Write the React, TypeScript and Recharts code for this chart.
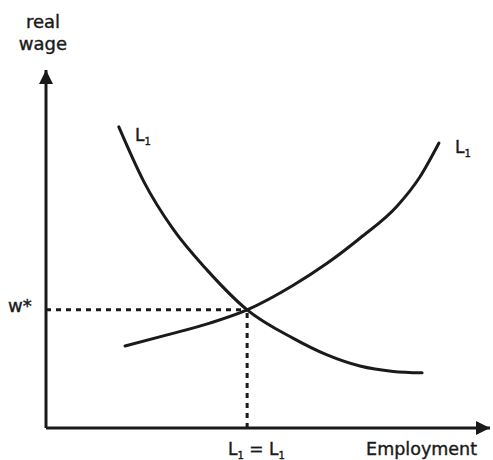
import { LineChart, Line, XAxis, YAxis, ReferenceLine } from "recharts";

// labour demand curve (falling)
const demandEmployment = [16.4, 22.0, 28.6, 36.3, 45.3, 55.6, 63.3, 70.7, 78.2, 84.7];
const demandWage = [84.1, 68.9, 55.6, 44.1, 33.0, 25.1, 20.4, 17.3, 15.8, 15.4];

// labour supply curve (rising)
const supplyEmployment = [17.8, 27.3, 36.9, 45.3, 55.6, 63.3, 70.7, 79.1, 84.2, 88.5];
const supplyWage = [22.9, 26.0, 29.3, 33.0, 39.8, 46.0, 53.0, 62.0, 70.1, 79.6];

const eqEmployment = 45.3;
const eqWage = 33.0;

const demand = demandEmployment.map((x, i) => ({ x, y: demandWage[i] }));
const supply = supplyEmployment.map((x, i) => ({ x, y: supplyWage[i] }));

const ink = "#1a1a1a";
const font = "'DejaVu Sans', sans-serif";
const txt = { fontFamily: font, fill: ink, stroke: ink, strokeWidth: 0.4 };

function LSub({ x, y }: { x: number; y: number }) {
  return (
    <text x={x} y={y} fontSize={17} {...txt}>
      L<tspan fontSize={10} dy={4}>1</tspan>
    </text>
  );
}

export default function App() {
  return (
    <div style={{ position: "absolute", left: 0, top: 0, background: "#fff" }}>
      <LineChart
        width={493}
        height={460}
        margin={{ top: 70, right: 3, bottom: 31, left: 45 }}
      >
        <defs>
          <marker
            id="arrow"
            viewBox="0 0 14 14"
            markerUnits="userSpaceOnUse"
            markerWidth={14}
            markerHeight={14}
            refX={14}
            refY={7}
            orient="auto-start-reverse"
          >
            <path d="M0,0 L14,7 L0,14 z" fill={ink} />
          </marker>
        </defs>
        <XAxis
          dataKey="x"
          type="number"
          domain={[0, 100]}
          height={1}
          tick={false}
          tickLine={false}
          axisLine={{ stroke: ink, strokeWidth: 3, markerEnd: "url(#arrow)" }}
        />
        <YAxis
          type="number"
          domain={[0, 100]}
          width={1}
          tick={false}
          tickLine={false}
          axisLine={{ stroke: ink, strokeWidth: 3, markerStart: "url(#arrow)" }}
        />
        <ReferenceLine
          segment={[{ x: 0, y: eqWage }, { x: eqEmployment, y: eqWage }]}
          stroke={ink}
          strokeWidth={3}
          strokeDasharray="5 5"
        />
        <ReferenceLine
          segment={[{ x: eqEmployment, y: 0 }, { x: eqEmployment, y: eqWage }]}
          stroke={ink}
          strokeWidth={3}
          strokeDasharray="5 5"
        />
        <Line
          data={demand}
          dataKey="y"
          type="monotone"
          stroke={ink}
          strokeWidth={3}
          strokeLinecap="round"
          dot={false}
          isAnimationActive={false}
        />
        <Line
          data={supply}
          dataKey="y"
          type="monotone"
          stroke={ink}
          strokeWidth={3}
          strokeLinecap="round"
          dot={false}
          isAnimationActive={false}
        />
        <text x={43} y={28} textAnchor="middle" fontSize={18} {...txt}>
          real
        </text>
        <text x={43} y={50} textAnchor="middle" fontSize={18} {...txt}>
          wage
        </text>
        <text x={8} y={312} fontSize={18} {...txt}>
          w*
        </text>
        <LSub x={135} y={141} />
        <LSub x={455} y={153} />
        <text x={228} y={455} fontSize={17} {...txt}>
          L<tspan fontSize={10} dy={4}>1</tspan>
          <tspan fontSize={17} dy={-4}> = L</tspan>
          <tspan fontSize={10} dy={4}>1</tspan>
        </text>
        <text x={477} y={455} textAnchor="end" fontSize={17.5} {...txt}>
          Employment
        </text>
      </LineChart>
    </div>
  );
}
